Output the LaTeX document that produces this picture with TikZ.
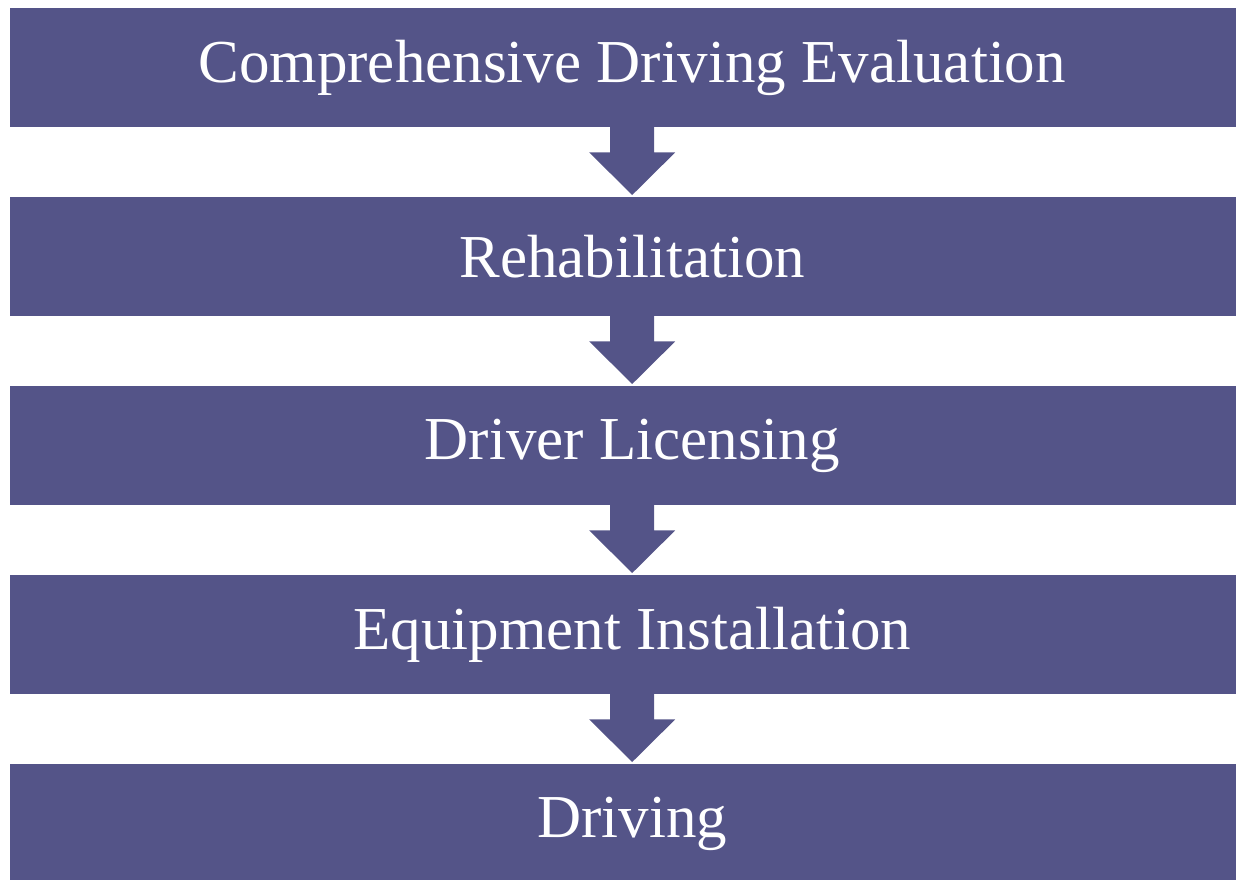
\documentclass[tikz,border=0pt]{standalone}
\usepackage{fontspec}
\setmainfont{Liberation Serif}
\definecolor{boxc}{HTML}{545488}
\begin{document}
\begin{tikzpicture}[x=1pt,y=-1pt,
  stepbox/.style={fill=boxc,draw=none,minimum width=1244pt,minimum height=119pt,inner sep=0pt,anchor=north west,
    text=white,font=\fontsize{61}{63}\selectfont},
  arr/.style={fill=boxc,draw=none}]
\useasboundingbox (0,0) rectangle (1236,879);
\clip (0,0) rectangle (1236,879);
\node[stepbox] (b1) at (10,8) {Comprehensive Driving Evaluation};
\node[stepbox] (b2) at (10,197) {Rehabilitation};
\node[stepbox] (b3) at (10,386) {Driver Licensing};
\node[stepbox] (b4) at (10,575) {Equipment Installation};
\node[stepbox,minimum height=120pt] (b5) at (10,764) {Driving};
\foreach \a/\b in {b1/b2,b2/b3,b3/b4,b4/b5}{
  \path (\a.south) coordinate (s) (\b.north) coordinate (t);
  \fill[arr] ([xshift=-22pt,yshift=1pt]s) -- ([xshift=-22pt,yshift=-25pt]s) -- ([xshift=-43pt,yshift=-25pt]s)
     -- ([yshift=2pt]t) -- ([xshift=43pt,yshift=-25pt]s) -- ([xshift=22pt,yshift=-25pt]s) -- ([xshift=22pt,yshift=1pt]s) -- cycle;
}
\end{tikzpicture}
\end{document}
